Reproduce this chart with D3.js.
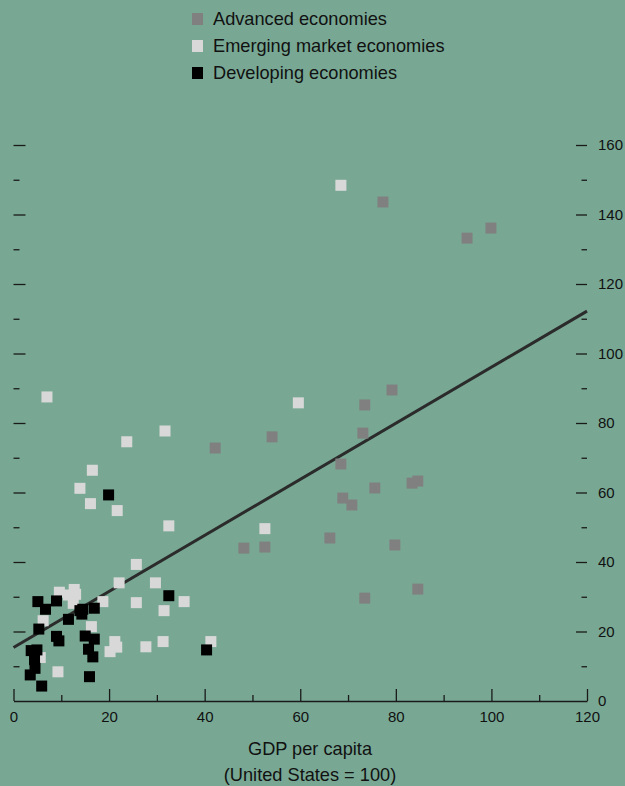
<!DOCTYPE html>
<html>
<head>
<meta charset="utf-8">
<script src="https://cdn.jsdelivr.net/npm/d3@7/dist/d3.min.js"></script>
<style>
  html, body { margin: 0; padding: 0; background: #78a894; }
  svg { display: block; }
  text { font-family: "Liberation Sans", Arial, Helvetica, sans-serif; fill: #111; }
</style>
</head>
<body>
<svg id="chart" width="625" height="786"></svg>
<script>
// GDP per capita (US = 100) vs. second indicator, by country group
const advancedX = [77.3, 94.9, 99.9, 42.2, 54.1, 79.2, 73.5, 73.1, 68.5, 68.9, 70.8, 75.6, 83.4, 84.6, 48.2, 52.6, 66.2, 79.8, 73.5, 84.6];
const advancedY = [143.6, 133.2, 136.1, 72.8, 76.0, 89.5, 85.2, 77.1, 68.2, 58.4, 56.4, 61.3, 62.7, 63.3, 44.0, 44.3, 46.9, 44.9, 29.6, 32.2];

const emergingX = [68.5, 59.6, 52.6, 41.3, 7.0, 31.7, 23.7, 16.5, 13.9, 16.1, 21.7, 32.5, 25.7, 22.1, 29.7, 35.7, 25.7, 31.5, 18.7, 9.6, 12.7, 11.5, 13.0, 12.5, 6.2, 16.3, 21.2, 21.6, 20.2, 27.7, 31.3, 9.3, 5.6];
const emergingY = [148.4, 85.8, 49.6, 17.1, 87.5, 77.7, 74.6, 66.4, 61.2, 56.8, 54.8, 50.4, 39.3, 34.0, 34.0, 28.6, 28.3, 26.0, 28.6, 31.3, 32.1, 30.5, 30.7, 28.1, 23.1, 21.4, 17.1, 15.5, 14.2, 15.6, 17.1, 8.4, 12.5];

const developingX = [5.1, 9.0, 6.7, 11.5, 13.9, 14.5, 14.3, 16.9, 32.5, 19.9, 5.3, 9.0, 9.5, 15.0, 16.9, 3.7, 4.9, 15.7, 16.6, 4.4, 4.5, 3.5, 5.9, 15.9, 40.4];
const developingY = [28.6, 28.8, 26.4, 23.5, 26.0, 26.4, 25.0, 26.7, 30.3, 59.3, 20.7, 18.6, 17.3, 18.7, 17.8, 14.5, 14.7, 14.9, 12.7, 11.9, 9.4, 7.5, 4.3, 7.0, 14.7];

// Fitted line end points (x = 0 and x = 120)
const fitX = [0, 120];
const fitY = [15.4, 112.2];

const seriesNames = ["Advanced economies", "Emerging market economies", "Developing economies"];
const seriesColors = ["#808080", "#d8d8d8", "#000000"];

const xMajor = [0, 20, 40, 60, 80, 100, 120];
const xMinor = [10, 30, 50, 70, 90, 110];
const yMajor = [0, 20, 40, 60, 80, 100, 120, 140, 160];
const yMinor = [10, 30, 50, 70, 90, 110, 130, 150];

const svg = d3.select("#chart");
const x = d3.scaleLinear().domain([0, 120]).range([13.5, 587]);
const y = d3.scaleLinear().domain([0, 160]).range([701, 145]);

const tickColor = "#1a1a1a";
function styleAxis(g) {
  g.selectAll("line").attr("stroke", tickColor).attr("stroke-width", 1.3);
  g.selectAll("path.domain").attr("stroke", tickColor).attr("stroke-width", 1.3);
  g.selectAll("text").attr("font-size", 15).attr("fill", "#111")
    .style("font-family", '"Liberation Sans", Arial, sans-serif');
}

// Left ticks (no labels)
svg.append("g").attr("transform", `translate(${x(0)},0)`)
  .call(d3.axisLeft(y).tickValues(yMajor.filter(v => v > 0)).tickSizeInner(-12).tickSizeOuter(0).tickFormat(""))
  .call(g => g.select(".domain").remove()).call(styleAxis);
svg.append("g").attr("transform", `translate(${x(0)},0)`)
  .call(d3.axisLeft(y).tickValues(yMinor).tickSizeInner(-6).tickSizeOuter(0).tickFormat(""))
  .call(g => g.select(".domain").remove()).call(styleAxis);

// Right ticks with labels
svg.append("g").attr("transform", `translate(${x(120)},0)`)
  .call(d3.axisRight(y).tickValues(yMajor).tickSizeInner(-11).tickSizeOuter(0).tickPadding(11).tickFormat(d3.format("d")))
  .call(g => g.select(".domain").remove()).call(styleAxis)
  .call(g => g.selectAll(".tick").filter(d => d === 0).select("line").remove());
svg.append("g").attr("transform", `translate(${x(120)},0)`)
  .call(d3.axisRight(y).tickValues(yMinor).tickSizeInner(-5.5).tickSizeOuter(0).tickFormat(""))
  .call(g => g.select(".domain").remove()).call(styleAxis);

// Bottom axis
svg.append("g").attr("transform", `translate(0,${y(0)})`)
  .call(d3.axisBottom(x).tickValues(xMajor).tickSizeInner(-12).tickSizeOuter(0).tickPadding(10).tickFormat(d3.format("d")))
  .call(styleAxis);
svg.append("g").attr("transform", `translate(0,${y(0)})`)
  .call(d3.axisBottom(x).tickValues(xMinor).tickSizeInner(-6).tickSizeOuter(0).tickFormat(""))
  .call(g => g.select(".domain").remove()).call(styleAxis);

// Axis title
const title = svg.append("text").attr("text-anchor", "middle").attr("font-size", 18.2);
title.append("tspan").attr("x", 310).attr("y", 755).text("GDP per capita");
title.append("tspan").attr("x", 310).attr("y", 781).text("(United States = 100)");

// Fitted line
svg.append("line")
  .attr("x1", x(fitX[0])).attr("y1", y(fitY[0]))
  .attr("x2", x(fitX[1])).attr("y2", y(fitY[1]))
  .attr("stroke", "#2b2b2b").attr("stroke-width", 3);

// Points
const size = 11;
const groups = [[advancedX, advancedY], [emergingX, emergingY], [developingX, developingY]];
groups.forEach(([xs, ys], i) => {
  svg.append("g").selectAll("rect")
    .data(xs.map((v, j) => [v, ys[j]]))
    .join("rect")
    .attr("x", d => x(d[0]) - size / 2)
    .attr("y", d => y(d[1]) - size / 2)
    .attr("width", size).attr("height", size)
    .attr("fill", seriesColors[i]);
});

// Legend
const legend = svg.append("g");
seriesNames.forEach((name, i) => {
  const cy = 19 + i * 27;
  legend.append("rect").attr("x", 192).attr("y", cy - 6).attr("width", 11).attr("height", 12)
    .attr("fill", seriesColors[i]);
  legend.append("text").attr("x", 213).attr("y", cy).attr("dy", "0.35em")
    .attr("font-size", 18.2).text(name);
});
</script>
</body>
</html>
